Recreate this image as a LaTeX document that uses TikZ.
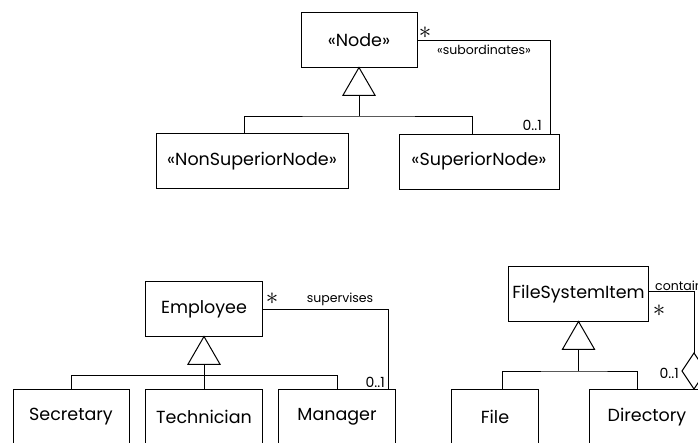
\documentclass[tikz,border=0pt]{standalone}
\usepackage{fontspec}
\setmainfont{Poppins}
\usetikzlibrary{arrows.meta,positioning,calc,shapes.geometric}

\begin{document}
\begin{tikzpicture}[
  x=1pt, y=-1pt,
  every node/.style={font=\fontsize{17.5}{20}\selectfont},
  box/.style={draw, line width=1pt, minimum height=55pt, inner sep=0pt, outer sep=0pt},
  gen/.style={draw, regular polygon, regular polygon sides=3, minimum size=37pt,
    inner sep=0pt, outer sep=0pt, anchor=corner 1, line width=1pt},
  agg/.style={draw, diamond, aspect=0.667, minimum width=24pt, minimum height=36pt,
    inner sep=0pt, outer sep=0pt, line width=1pt},
  edge/.style={line width=1pt},
  lbl/.style={font=\fontsize{12.5}{14}\selectfont, inner sep=0pt},
  mult/.style={font=\fontsize{14}{16}\selectfont, inner sep=0pt},
  star/.style={font=\fontsize{25}{25}\selectfont, inner sep=0pt},
]
  \useasboundingbox (0,0) rectangle (698,442);
  \clip (0,0) rectangle (698,442);

  % nodes hierarchy
  \node[box, minimum width=116pt] (nd)  at (359, 40)   {«Node»};
  \node[box, minimum width=192pt] (nsn) at (252, 161)  {«NonSuperiorNode»};
  \node[box, minimum width=160pt] (sn)  at (479, 161.5){«SuperiorNode»};
  \node[gen] (g1) at (nd.south) {};
  \coordinate (bar1) at (359, 116);
  \draw[edge] (g1.south) -- (bar1);
  \draw[edge] ([xshift=-8pt]nsn.north) |- (bar1) -| ([xshift=-6.5pt]sn.north);
  \draw[edge] (nd.east) -| ([xshift=-9pt]sn.north east);
  \node[star] at (425, 33) {$\ast$};
  \node[lbl] at (484, 50) {«subordinates»};
  \node[mult, anchor=east] at (542, 125) {0..1};

  % employees
  \node[box, minimum width=117pt] (emp)  at (204, 309) {Employee};
  \node[box, minimum width=116pt] (sec)  at (71, 417)  {Secretary};
  \node[box, minimum width=117pt] (tech) at (204, 417) {Technician};
  \node[box, minimum width=117pt] (man)  at (337, 417) {Manager};
  \node[gen] (g2) at (emp.south) {};
  \draw[edge] (g2.south) -- (tech.north);
  \draw[edge] (sec.north) |- (man.north |- 0,375) -- (man.north);
  \draw[edge] (emp.east) -| ([xshift=-7.5pt]man.north east);
  \node[star] at (272, 299) {$\ast$};
  \node[lbl] at (340, 299) {supervises};
  \node[mult, anchor=east] at (385, 382) {0..1};

  % file system
  \node[box, minimum width=140pt] (fsi)  at (578.5, 294) {FileSystemItem};
  \node[box, minimum width=87pt]  (file) at (495, 417)   {File};
  \node[box, minimum width=116pt] (dir)  at (647, 417)   {Directory};
  \node[gen] (g3) at (fsi.south) {};
  \node[agg] (dia) at (694, 371) {};
  \coordinate (bar3) at (578.5, 371);
  \draw[edge] (g3.south) -- (bar3);
  \draw[edge] ([xshift=7pt]file.north) |- (bar3) -| ([xshift=-10pt]dir.north);
  \draw[edge] ([yshift=3pt]fsi.east) -| (dia.north);
  \node[lbl, anchor=west] at (655, 286) {contains};
  \node[star] at (659, 311) {$\ast$};
  \node[mult, anchor=east] at (679, 373) {0..1};
\end{tikzpicture}
\end{document}
